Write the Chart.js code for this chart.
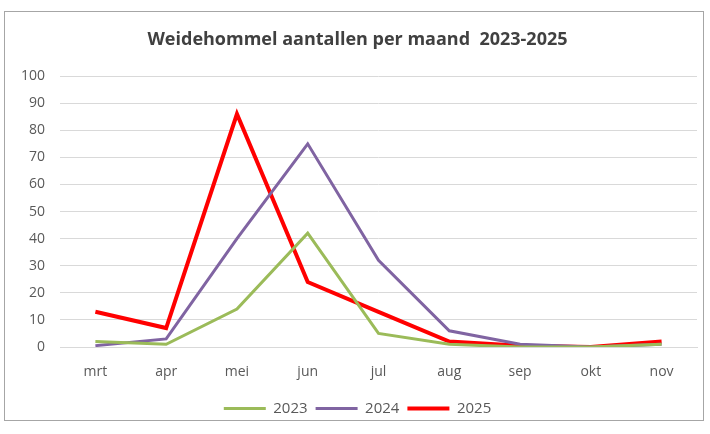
<!DOCTYPE html>
<html>
<head>
<meta charset="utf-8">
<script src="https://cdn.jsdelivr.net/npm/chart.js@4.4.1/dist/chart.umd.min.js"></script>
<style>
  html, body { margin: 0; padding: 0; background: #ffffff; }
  #frame { position: absolute; left: 4px; top: 11px; width: 700px; height: 410px; border: 1px solid #a6a6a6; box-sizing: border-box; }
  #wrap { position: absolute; left: 0; top: 0; width: 710px; height: 434px; }
</style>
</head>
<body>
<div id="frame"></div>
<div id="wrap"><canvas id="c" width="710" height="434"></canvas></div>
<script>
const months = ["mrt", "apr", "mei", "jun", "jul", "aug", "sep", "okt", "nov"];
const y2023 = [2, 1, 14, 42, 5, 1, 0, 0, 1];
const y2024 = [0.5, 3, 40, 75, 32, 6, 1, 0, 1];
const y2025 = [13, 7, 86, 24, 13, 2, 0.5, 0, 2];
const yTicks = [0, 10, 20, 30, 40, 50, 60, 70, 80, 90, 100];

const FONT = "'Open Sans', 'Liberation Sans', sans-serif";

new Chart(document.getElementById('c'), {
  type: 'line',
  data: {
    labels: months,
    datasets: [
      { label: '2023', data: y2023, borderColor: '#9bbb59', backgroundColor: '#9bbb59', borderWidth: 3, pointRadius: 0, tension: 0 },
      { label: '2024', data: y2024, borderColor: '#8064a2', backgroundColor: '#8064a2', borderWidth: 3, pointRadius: 0, tension: 0 },
      { label: '2025', data: y2025, borderColor: '#ff0000', backgroundColor: '#ff0000', borderWidth: 4, pointRadius: 0, tension: 0 }
    ]
  },
  options: {
    responsive: false,
    animation: false,
    layout: { padding: { left: 18, right: 13, top: 0, bottom: 8 } },
    plugins: {
      title: {
        display: true,
        text: 'Weidehommel aantallen per maand  2023-2025',
        color: '#404040',
        font: { family: FONT, size: 18, weight: 'bold' },
        padding: { top: 29, bottom: 25.5 }
      },
      legend: {
        position: 'bottom',
        labels: {
          usePointStyle: true,
          pointStyle: 'line',
          pointStyleWidth: 42,
          color: '#595959',
          font: { family: FONT, size: 15 },
          padding: 8,
          boxHeight: 4
        }
      },
      tooltip: { enabled: false }
    },
    scales: {
      x: {
        offset: true,
        grid: { display: false },
        border: { color: '#d9d9d9' },
        ticks: { color: '#595959', font: { family: FONT, size: 14 }, padding: 9, maxRotation: 0 },
        afterFit: (axis) => { axis.height = 46; }
      },
      y: {
        min: 0, max: 100,
        afterBuildTicks: (axis) => { axis.ticks = yTicks.map(v => ({ value: v })); },
        grid: { color: '#d9d9d9', drawTicks: false },
        border: { display: false },
        ticks: { color: '#595959', font: { family: FONT, size: 14 }, padding: 15 },
        afterFit: (axis) => { axis.width = 42; }
      }
    }
  }
});
</script>
</body>
</html>
